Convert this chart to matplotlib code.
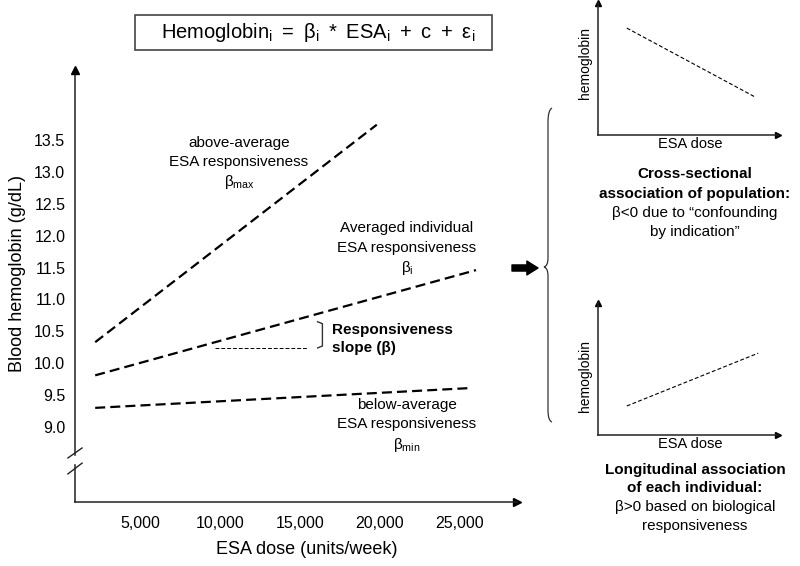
import numpy as np
import matplotlib
matplotlib.use("Agg")
import matplotlib.pyplot as plt
from matplotlib.patches import Rectangle, PathPatch
from matplotlib.path import Path

plt.rcParams['font.family'] = ['Liberation Sans', 'DejaVu Sans']

# ESA dose (units/week) vs hemoglobin (g/dL) for the three responsiveness lines
above_x = [2200, 19800]
above_y = [10.33, 13.74]
avg_x = [2200, 26000]
avg_y = [9.81, 11.46]
below_x = [2200, 25600]
below_y = [9.30, 9.61]

# horizontal guide under the average line (slope illustration)
slope_x = [9700, 15450]
slope_y = [10.24, 10.24]
bracket_x = [16100, 16400]
bracket_y = [10.24, 10.65]

yticks = np.arange(9.0, 13.51, 0.5)
xticks = [5000, 10000, 15000, 20000, 25000]

# small schematic insets (arbitrary units)
cross_x = [0.16, 0.87]
cross_y = [0.81, 0.29]
long_x = [0.16, 0.89]
long_y = [0.22, 0.62]

W, H = 800, 566


def fx(px):
    return px / W


def fy(py):
    return 1 - py / H


def ftext(x, y, s, **kw):
    kw.setdefault('ha', 'center')
    kw.setdefault('va', 'center')
    kw.setdefault('fontsize', 11)
    fig.text(fx(x), fy(y), s, **kw)


fig = plt.figure(figsize=(8, 5.66), dpi=100)

# ---- main chart
ax = fig.add_axes([fx(75), fy(502), fx(517) - fx(75), fy(70) - fy(502)])
ax.set_xlim(937.5, 28562.5)
ax.set_ylim(9.0 - 75 / 63.78, 9.0 + 357 / 63.78)

dash = (0, (4.5, 2.3))
ax.plot(above_x, above_y, color='black', lw=1.6, linestyle=dash)
ax.plot(avg_x, avg_y, color='black', lw=1.6, linestyle=dash)
ax.plot(below_x, below_y, color='black', lw=1.6, linestyle=dash)
ax.plot(slope_x, slope_y, color='black', lw=0.7, linestyle=(0, (4, 2)))

# small bracket next to the slope guide
bx0, bx1 = bracket_x
by0, by1 = bracket_y
ax.plot([bx0, bx1, bx1, bx0], [by0, by0 + 0.03, by1 - 0.03, by1], color='#333', lw=1)

for s in ['top', 'right', 'left']:
    ax.spines[s].set_visible(False)
ax.spines['bottom'].set_color('#222')
ax.spines['bottom'].set_linewidth(1.1)

# left spine with a break
ax.plot([0, 0], [0, 0.0856], color='#222', lw=1.1, transform=ax.transAxes, clip_on=False)
ax.plot([0, 0], [0.1088, 1], color='#222', lw=1.1, transform=ax.transAxes, clip_on=False)
ax.plot([-0.016, 0.016], [0.102, 0.125], color='#222', lw=1, transform=ax.transAxes, clip_on=False)
ax.plot([-0.016, 0.016], [0.065, 0.090], color='#222', lw=1, transform=ax.transAxes, clip_on=False)
ax.plot(1, 0, '>', color='black', ms=6, transform=ax.transAxes, clip_on=False)
ax.plot(0, 1, '^', color='black', ms=6, transform=ax.transAxes, clip_on=False)

ax.set_yticks(yticks)
ax.set_yticklabels(['%.1f' % v for v in yticks])
ax.set_xticks(xticks)
ax.set_xticklabels(['{:,}'.format(v) for v in xticks])
ax.tick_params(length=0, labelsize=11.5)
ax.tick_params(axis='y', pad=7)
ax.tick_params(axis='x', pad=10)

ax.set_ylabel('Blood hemoglobin (g/dL)', fontsize=13)
ax.yaxis.set_label_coords(-0.111, 0.53)
ax.set_xlabel('ESA dose (units/week)', fontsize=13)
ax.xaxis.set_label_coords(0.525, -0.09)

# line annotations
ftext(239, 143, 'above-average')
ftext(239, 162, 'ESA responsiveness')
ftext(239, 182, r'β$_\mathregular{max}$')

ftext(407, 228, 'Averaged individual')
ftext(407, 248, 'ESA responsiveness')
ftext(407, 268, r'β$_\mathregular{i}$')

ftext(332, 330, 'Responsiveness', ha='left', fontweight='bold')
ftext(332, 348, 'slope (β)', ha='left', fontweight='bold')

ftext(407, 405, 'below-average')
ftext(407, 424, 'ESA responsiveness')
ftext(407, 445, r'β$_\mathregular{min}$')

# formula box
fig.add_artist(Rectangle((fx(135), fy(50)), fx(492) - fx(135), fy(15) - fy(50),
                         transform=fig.transFigure, fill=False, edgecolor='#444', lw=1.2))
sp = ' \u2009'
formula = (r'Hemoglobin$_\mathregular{i}$' + sp + '=' + sp + r'β$_\mathregular{i}$' + sp + '*' + sp
           + r'ESA$_\mathregular{i}$' + sp + '+' + sp + 'c' + sp + '+' + sp + r'ε$_\mathregular{i}$')
ftext(318, 33, formula, fontsize=14.5)

# arrow and brace
fig.add_artist(plt.Annotation('', xy=(fx(538), fy(268)), xytext=(fx(512), fy(268)),
                              xycoords='figure fraction', textcoords='figure fraction',
                              arrowprops=dict(arrowstyle='simple,head_length=0.4,head_width=0.5,tail_width=0.22',
                                              color='black', shrinkA=0, shrinkB=0, mutation_scale=20)))

brace = [(552, 108), (548, 110), (548, 122), (548, 258), (548, 266), (544, 267),
         (548, 268), (548, 276), (548, 410), (548, 421), (552, 422)]
codes = [Path.MOVETO, Path.CURVE3, Path.CURVE3, Path.LINETO, Path.CURVE3, Path.CURVE3,
         Path.CURVE3, Path.CURVE3, Path.LINETO, Path.CURVE3, Path.CURVE3]
bpath = Path([(fx(x), fy(y)) for x, y in brace], codes)
fig.add_artist(PathPatch(bpath, transform=fig.transFigure, fill=False, edgecolor='#333', lw=0.9))


# ---- insets
def inset(top, line_x, line_y, label_y):
    a = fig.add_axes([fx(598), fy(top + 132), fx(778) - fx(598), fy(top) - fy(top + 132)])
    a.set_xlim(0, 1)
    a.set_ylim(0, 1)
    a.plot(line_x, line_y, color='black', lw=0.8, linestyle=(0, (3.5, 2)))
    for s in ['top', 'right']:
        a.spines[s].set_visible(False)
    for s in ['left', 'bottom']:
        a.spines[s].set_color('#222')
        a.spines[s].set_linewidth(1.1)
    a.plot(1, 0, '>', color='black', ms=5, transform=a.transAxes, clip_on=False)
    a.plot(0, 1, '^', color='black', ms=5, transform=a.transAxes, clip_on=False)
    a.set_xticks([])
    a.set_yticks([])
    ftext(585, label_y, 'hemoglobin', rotation=90, fontsize=10)
    ftext(690, top + 141, 'ESA dose', fontsize=10.5)
    return a


inset(3, cross_x, cross_y, 63)
inset(303, long_x, long_y, 376)

ftext(695, 174, 'Cross-sectional', fontweight='bold')
ftext(695, 194, 'association of population:', fontweight='bold')
ftext(695, 213, 'β<0 due to \u201cconfounding')
ftext(695, 232, 'by indication\u201d')

ftext(695, 470, 'Longitudinal association', fontweight='bold')
ftext(695, 488, 'of each individual:', fontweight='bold')
ftext(695, 507, 'β>0 based on biological')
ftext(695, 526, 'responsiveness')

fig.savefig('out.png', dpi=100)
